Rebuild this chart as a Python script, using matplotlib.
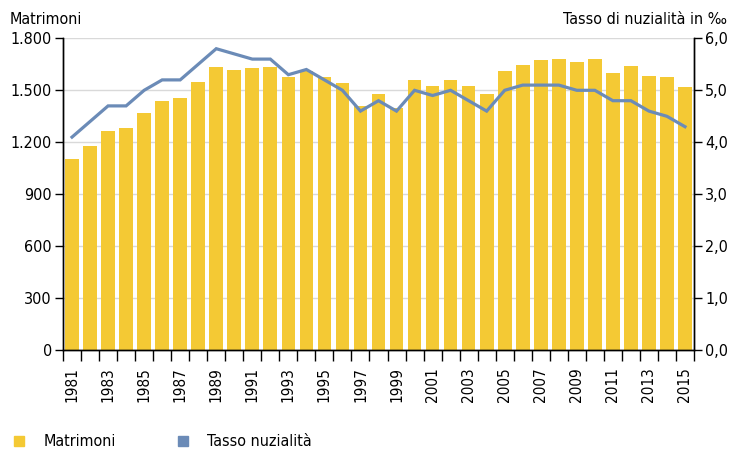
import numpy as np
import matplotlib
matplotlib.use("Agg")
import matplotlib.pyplot as plt
from matplotlib.lines import Line2D
from matplotlib.ticker import FuncFormatter

# ---------- data ----------
years = list(range(1981, 2016))
matrimoni = [1102, 1180, 1267, 1284, 1371, 1440, 1457, 1550, 1634, 1619,
             1629, 1633, 1575, 1611, 1575, 1542, 1409, 1479, 1400, 1560,
             1527, 1558, 1527, 1479, 1612, 1646, 1673, 1679, 1663, 1683,
             1600, 1640, 1584, 1575, 1521]
tasso = [4.1, 4.4, 4.7, 4.7, 5.0, 5.2, 5.2, 5.5, 5.8, 5.7,
         5.6, 5.6, 5.3, 5.4, 5.2, 5.0, 4.6, 4.8, 4.6, 5.0,
         4.9, 5.0, 4.8, 4.6, 5.0, 5.1, 5.1, 5.1, 5.0, 5.0,
         4.8, 4.8, 4.6, 4.5, 4.3]
left_ticks = [0, 300, 600, 900, 1200, 1500, 1800]
right_ticks = [0, 1, 2, 3, 4, 5, 6]
# --------------------------

YELLOW = '#F4C934'
BLUE = '#6B8BB7'
plt.rcParams['font.family'] = ['DejaVu Sans']
plt.rcParams['font.stretch'] = 'condensed'
FS = 11.5

fig = plt.figure(figsize=(7.29, 4.53), dpi=100)
ax = fig.add_axes([63/729, 1 - 350.3/453, (694 - 63)/729, (350.3 - 38.3)/453])
ax2 = ax.twinx()

x = np.arange(len(years))
ax.bar(x, matrimoni, width=0.76, color=YELLOW, zorder=2)
ax2.plot(x, tasso, color=BLUE, lw=2.3, solid_joinstyle='miter', zorder=3)

ax.set_xlim(-0.5, len(years) - 0.5)
ax.set_ylim(0, 1800)
ax2.set_ylim(0, 6)

ax.set_yticks(left_ticks)
ax.yaxis.set_major_formatter(FuncFormatter(lambda v, p: f"{int(v):,}".replace(',', '.')))
ax2.set_yticks(right_ticks)
ax2.yaxis.set_major_formatter(FuncFormatter(lambda v, p: f"{v:.1f}".replace('.', ',')))

ax.grid(axis='y', color='#d9d9d9', lw=1, zorder=0)
ax.set_axisbelow(True)

# x ticks at bar boundaries, labels every other year at bar centres
ax.set_xticks(np.arange(-0.5, len(years)), labels=[])
ax.set_xticks(x[::2], labels=[str(y) for y in years[::2]], minor=True)
ax.tick_params(axis='x', which='major', length=8, width=1, direction='out')
ax.tick_params(axis='x', which='minor', length=0, labelrotation=90, labelsize=11, pad=12)
ax.tick_params(axis='y', length=6, width=1, labelsize=FS, pad=2)
ax2.tick_params(axis='y', length=6, width=1, labelsize=FS, pad=2)

for a in (ax, ax2):
    a.spines['top'].set_visible(False)
    for s in ('left', 'right', 'bottom'):
        a.spines[s].set_color('black')
        a.spines[s].set_linewidth(1)

fig.text(10/729, 1 - 20/453, 'Matrimoni', fontsize=FS, ha='left', va='center')
fig.text(727/729, 1 - 20/453, 'Tasso di nuzialità in ‰', fontsize=FS, ha='right', va='center')

handles = [Line2D([], [], marker='s', ls='none', color=YELLOW, markersize=7),
           Line2D([], [], marker='s', ls='none', color=BLUE, markersize=7)]
fig.legend(handles, ['Matrimoni', 'Tasso nuzialità'], loc='center left',
           bbox_to_anchor=(-0.004, 1 - 442/453), ncol=2, frameon=False,
           fontsize=FS, handletextpad=1.0, columnspacing=3.7, handlelength=1)

fig.savefig('out.png', dpi=100)
